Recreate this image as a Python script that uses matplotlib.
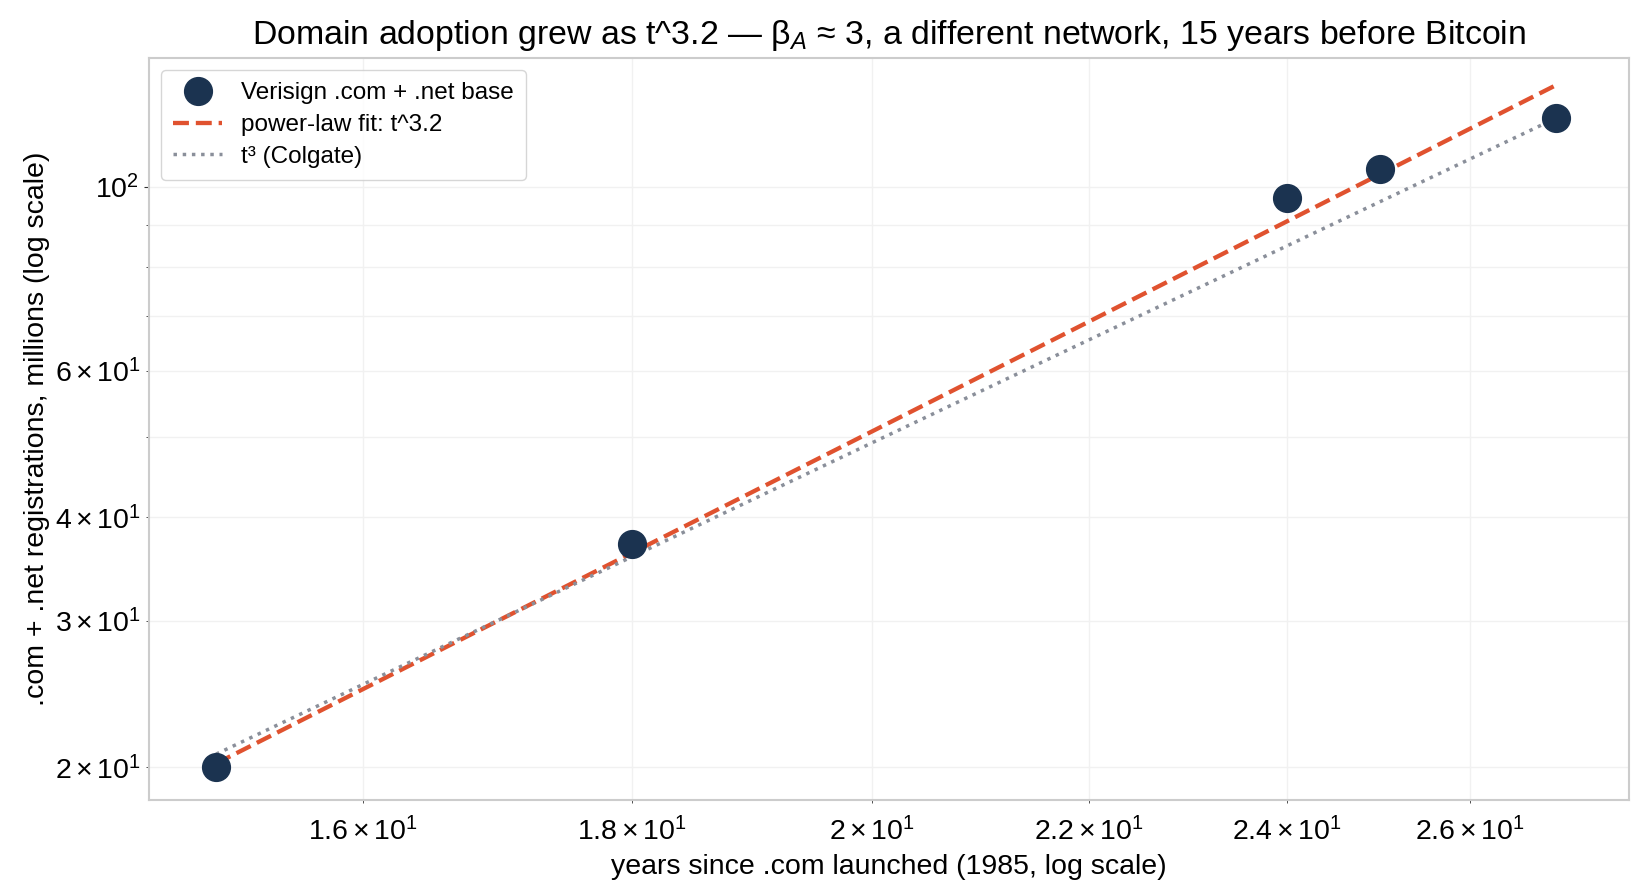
import numpy as np
import matplotlib
matplotlib.use("Agg")
import matplotlib.pyplot as plt

plt.rcParams['font.family'] = ['Liberation Sans', 'DejaVu Sans']
plt.rcParams['mathtext.fontset'] = 'custom'
plt.rcParams['mathtext.rm'] = 'Liberation Sans'
plt.rcParams['mathtext.it'] = 'Liberation Sans:italic'
plt.rcParams['mathtext.bf'] = 'Liberation Sans:bold'

# years since 1985 and .com + .net registrations (millions)
years = [15, 18, 24, 25, 27]
regs = [20.0, 37.2, 96.9, 105.0, 121.0]
beta_fit = 3.2

t = np.array(years, dtype=float)
y = np.array(regs)

# power-law with exponent beta_fit, prefactor from least squares in log space
icpt = np.mean(np.log(y) - beta_fit * np.log(t))
tt = np.linspace(t.min(), t.max(), 200)
fit = np.exp(icpt) * tt ** beta_fit
# t^3 reference anchored at the last point
ref = y[-1] * (tt / t[-1]) ** 3

fig = plt.figure(figsize=(16.47, 8.94), dpi=100)
ax = fig.add_axes([149 / 1647, 1 - 800 / 894, 1480 / 1647, 742 / 894])

ax.plot(t, y, 'o', color='#1b3350', markersize=20, zorder=4,
        label='Verisign .com + .net base')
ax.plot(tt, fit, '--', color='#e0522f', lw=3.1,
        label=f'power-law fit: t^{beta_fit}')
ax.plot(tt, ref, ':', color='#8a8f9a', lw=2.5, label='t³ (Colgate)')

ax.set_xscale('log')
ax.set_yscale('log')
ax.set_xlim(14.565, 27.88)
ax.set_ylim(18.27, 143)

ax.grid(True, which='both', color='#f1f1f1', lw=1.0)
ax.set_axisbelow(True)
for s in ax.spines.values():
    s.set_color('#cccccc')
    s.set_linewidth(1.5)

ax.tick_params(which='both', labelsize=20.5, colors='#333333', labelcolor='black')
ax.tick_params(axis='x', which='both', pad=10)

ax.set_title('Domain adoption grew as t^3.2 — β$_A$ ≈ 3, a different network, 15 years before Bitcoin',
             fontsize=24.4, pad=10)
ax.set_xlabel('years since .com launched (1985, log scale)', fontsize=20.5, labelpad=6)
ax.set_ylabel('.com + .net registrations, millions (log scale)', fontsize=20.5)

ax.legend(loc='upper left', fontsize=17.5, frameon=True, edgecolor='#cccccc',
          fancybox=True, borderpad=0.5, handlelength=2.0, labelspacing=0.4)

fig.savefig('out.png', dpi=100)
